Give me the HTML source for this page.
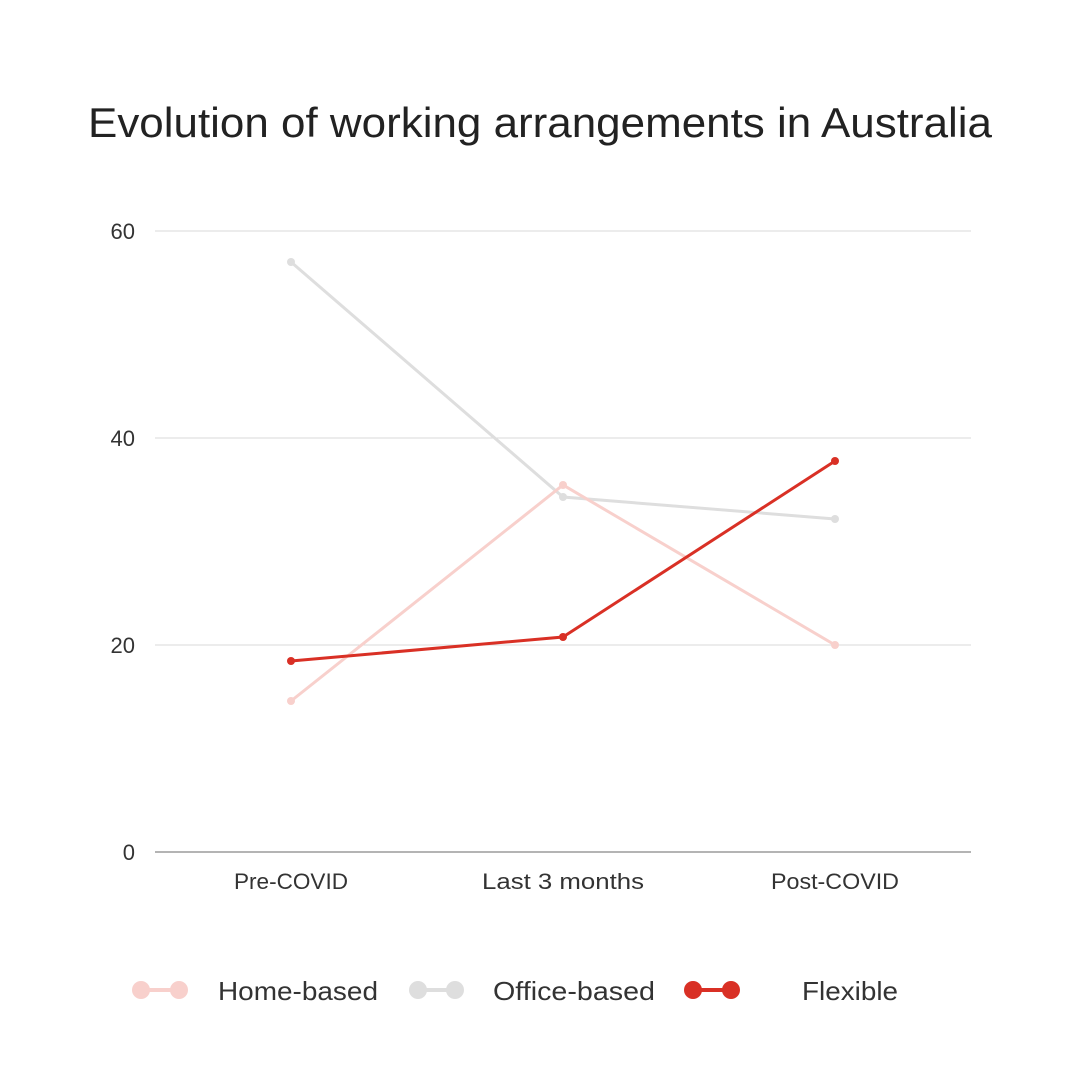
<!DOCTYPE html>
<html><head><meta charset="utf-8"><style>
body{margin:0;background:#fff}
svg{display:block;font-family:"Liberation Sans",sans-serif}
</style></head><body>
<svg width="1080" height="1080" viewBox="0 0 1080 1080">
<rect width="1080" height="1080" fill="#fff"/>
<text x="540" y="137" text-anchor="middle" font-size="42" fill="#222" font-weight="300" textLength="904" lengthAdjust="spacingAndGlyphs">Evolution of working arrangements in Australia</text>
<g stroke="#d9d9d9" stroke-width="1">
<line x1="155" y1="231" x2="971" y2="231"/>
<line x1="155" y1="438" x2="971" y2="438"/>
<line x1="155" y1="645" x2="971" y2="645"/>
</g>
<line x1="155" y1="852" x2="971" y2="852" stroke="#888" stroke-width="1.2"/>
<g font-size="22" fill="#333" text-anchor="end">
<text x="135" y="239">60</text>
<text x="135" y="446">40</text>
<text x="135" y="653">20</text>
<text x="135" y="860">0</text>
</g>
<g font-size="22" fill="#333" text-anchor="middle">
<text x="291" y="889" textLength="114" lengthAdjust="spacingAndGlyphs">Pre-COVID</text>
<text x="563" y="889" textLength="162" lengthAdjust="spacingAndGlyphs">Last 3 months</text>
<text x="835" y="889" textLength="128" lengthAdjust="spacingAndGlyphs">Post-COVID</text>
</g>
<g fill="none" stroke-width="3">
<polyline points="291,262 563,497 835,519" stroke="#dedede"/>
<polyline points="291,701 563,485 835,645" stroke="#f8d0cc"/>
<polyline points="291,661 563,637 835,461" stroke="#d93025"/>
</g>
<g fill="#dedede"><circle cx="291" cy="262" r="4"/><circle cx="563" cy="497" r="4"/><circle cx="835" cy="519" r="4"/></g>
<g fill="#f8d0cc"><circle cx="291" cy="701" r="4"/><circle cx="563" cy="485" r="4"/><circle cx="835" cy="645" r="4"/></g>
<g fill="#d93025"><circle cx="291" cy="661" r="4"/><circle cx="563" cy="637" r="4"/><circle cx="835" cy="461" r="4"/></g>
<g stroke-width="4">
<line x1="141" y1="990" x2="179" y2="990" stroke="#f8d0cc"/>
<line x1="418" y1="990" x2="455" y2="990" stroke="#dedede"/>
<line x1="693" y1="990" x2="731" y2="990" stroke="#d93025"/>
</g>
<circle cx="141" cy="990" r="9" fill="#f8d0cc"/><circle cx="179" cy="990" r="9" fill="#f8d0cc"/>
<circle cx="418" cy="990" r="9" fill="#dedede"/><circle cx="455" cy="990" r="9" fill="#dedede"/>
<circle cx="693" cy="990" r="9" fill="#d93025"/><circle cx="731" cy="990" r="9" fill="#d93025"/>
<g font-size="26" fill="#333">
<text x="218" y="1000" textLength="160" lengthAdjust="spacingAndGlyphs">Home-based</text>
<text x="493" y="1000" textLength="162" lengthAdjust="spacingAndGlyphs">Office-based</text>
<text x="802" y="1000" textLength="96" lengthAdjust="spacingAndGlyphs">Flexible</text>
</g>
</svg>
</body></html>
